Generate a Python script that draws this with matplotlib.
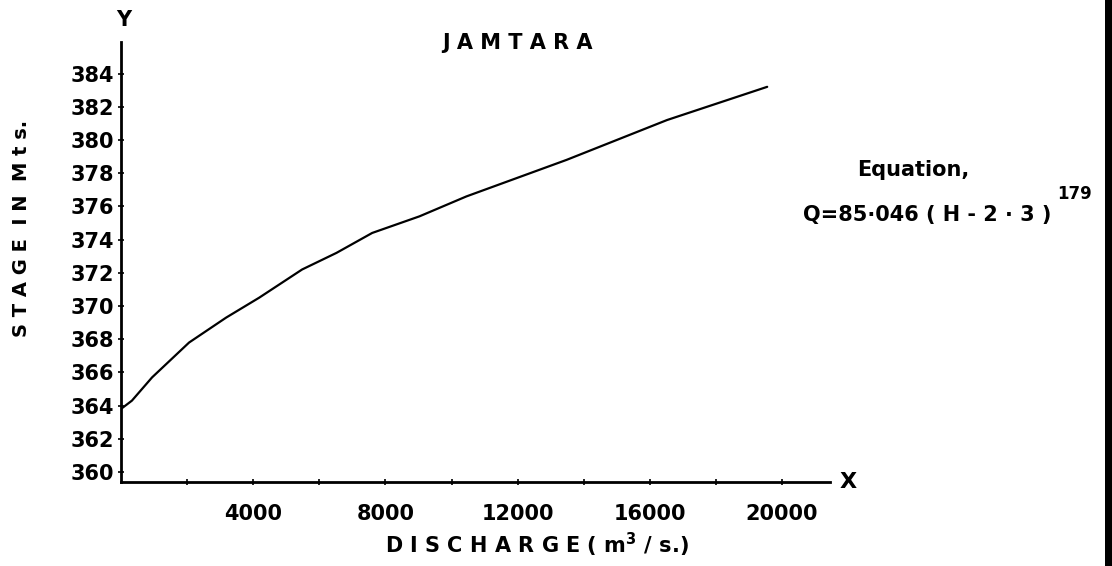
import matplotlib
matplotlib.use("Agg")
import matplotlib.pyplot as plt

# stage-discharge rating curve
discharge = [0, 330, 940, 2060, 3180, 4180, 5480, 6520, 7600, 9030,
             10450, 13480, 16520, 19550]
stage = [363.8, 364.3, 365.7, 367.8, 369.3, 370.5, 372.2, 373.2, 374.4,
         375.4, 376.6, 378.8, 381.2, 383.2]

stage_ticks = [360, 362, 364, 366, 368, 370, 372, 374, 376, 378, 380, 382, 384]
discharge_ticks = [4000, 8000, 12000, 16000, 20000]
discharge_minor = [2000, 6000, 10000, 14000, 18000]

plt.rcParams["font.family"] = ["DejaVu Sans"]
plt.rcParams["font.weight"] = "bold"

fig = plt.figure(figsize=(11.12, 5.66), dpi=100)
W, H = 1112, 566
left, right, top, bottom = 121, 830, 42, 482
ax = fig.add_axes([left / W, 1 - bottom / H, (right - left) / W, (bottom - top) / H])

ax.plot(discharge, stage, color="black", lw=1.6, solid_capstyle="round",
        solid_joinstyle="round")

ax.set_xlim(0, 21450)
ax.set_ylim(359.4, 385.9)
for side in ("top", "right"):
    ax.spines[side].set_visible(False)
for side in ("left", "bottom"):
    ax.spines[side].set_linewidth(2.0)

ax.set_yticks(stage_ticks)
ax.set_yticklabels([str(v) for v in stage_ticks])
ax.set_xticks(discharge_ticks)
ax.set_xticklabels([str(v) for v in discharge_ticks])
ax.set_xticks(discharge_minor, minor=True)
ax.tick_params(axis="both", direction="inout", length=4, width=1.2, labelsize=15)
ax.tick_params(axis="x", which="minor", direction="inout", length=4, width=1.2)
ax.tick_params(axis="x", pad=14)
ax.tick_params(axis="y", pad=3)

# axis letters at the ends of the axes
fig.text(124 / W, 1 - 20 / H, "Y", ha="center", va="center", fontsize=15)
fig.text(848 / W, 1 - 482 / H, "X", ha="center", va="center", fontsize=16)

fig.text(517 / W, 1 - 43 / H, "J A M T A R A", ha="center", va="center", fontsize=15)
fig.text(22 / W, 1 - 228 / H, "S T A G E  I N  M t s.", ha="center", va="center",
         rotation=90, fontsize=14)
fig.text(537 / W, 1 - 545 / H, r"D I S C H A R G E ( m$^{3}$ / s.)",
         ha="center", va="center", fontsize=15)

fig.text(913 / W, 1 - 170 / H, "Equation,", ha="center", va="center", fontsize=15)
fig.text(803 / W, 1 - 215 / H, "Q=85·046 ( H - 2 · 3 )", ha="left", va="center",
         fontsize=15)
fig.text(1057 / W, 1 - 194 / H, "179", ha="left", va="center", fontsize=12)

# dark scan edge on the right
fig.add_artist(plt.Rectangle((1105 / W, 0), 7 / W, 1, transform=fig.transFigure,
                             color="black", lw=0))

fig.savefig("out.png", dpi=100)
